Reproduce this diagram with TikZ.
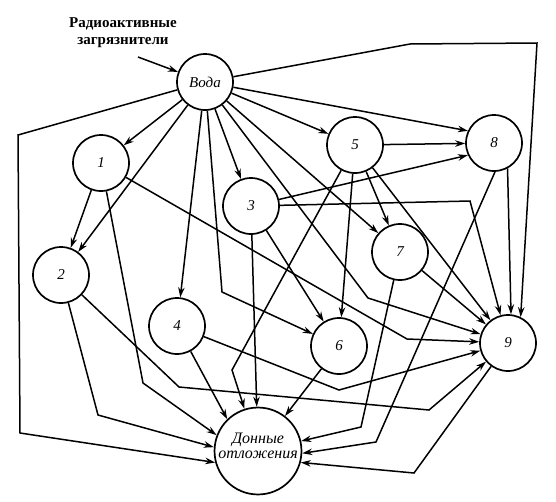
\documentclass[tikz,border=0pt]{standalone}
\usepackage{fontspec}
\setmainfont{Liberation Serif}
\usetikzlibrary{arrows.meta}

\begin{document}
\begin{tikzpicture}[x=1pt, y=-1pt, >={Stealth[length=10pt,width=6.5pt]},
	comp/.style={circle, draw, line width=1.7pt, minimum size=56pt, inner sep=0pt,
		font=\fontsize{15}{15}\selectfont\itshape},
	link/.style={->, line width=1.5pt}]
	\useasboundingbox (0,0) rectangle (556,501);
	
	% 标题与入口
	\node[font=\fontsize{15}{17}\selectfont\bfseries, align=center] (src) at (123,33) {Радиоактивные\\загрязнители};
	\coordinate (in) at (138,57);
	
	% 节点
	\node[comp] (v) at (205,82) {Вода};
	\node[comp] (n1) at (101,163) {1};
	\node[comp] (n2) at (61,275) {2};
	\node[comp] (n3) at (251,206) {3};
	\node[comp] (n4) at (177,326) {4};
	\node[comp] (n5) at (355,145) {5};
	\node[comp] (n6) at (339,346) {6};
	\node[comp] (n7) at (400,252) {7};
	\node[comp] (n8) at (494,143) {8};
	\node[comp] (n9) at (508,343) {9};
	\node[comp, minimum size=86pt, align=center, font=\fontsize{16}{15}\selectfont\itshape] (nd) at (258,451) {Донные\\отложения\\[-5pt]};
	
	% 从水出发
	\draw[link] (in) -- (v);
	\draw[link] (v) -- (n1);
	\draw[link] (v) -- (n2);
	\draw[link] (v) -- (18,135) -- (20,433) -- (nd.195);
	\draw[link] (v) -- (n4);
	\draw[link] (v) -- (222,292) -- (n6);
	\draw[link] (v) -- (n3);
	\draw[link] (v) -- (368,298) -- (n9);
	\draw[link] (v) -- (n7);
	\draw[link] (v) -- (n5);
	\draw[link] (v) -- (n8.155);
	\draw[link] (v) -- (410,44) -- (537,43) -- (n9.64);
	
	% 1 和 2
	\draw[link] (n1) -- (n2);
	\draw[link] (n1) -- (143,383) -- (nd.159);
	\draw[link] (n1) -- (407,339) -- (n9);
	\draw[link] (n2) -- (98,415) -- (nd.175);
	\draw[link] (n2) -- (179,387) -- (429,410) -- (n9);
	
	% 3 和 4
	\draw[link] (n3) -- (n8.205);
	\draw[link] (n3) -- (470,201) -- (n9);
	\draw[link] (n3) -- (n6);
	\draw[link] (n3) -- (nd);
	\draw[link] (n4) -- (nd.134);
	\draw[link] (n4) -- (339,390) -- (n9);
	
	% 5
	\draw[link] (n5) -- (n8);
	\draw[link] (n5) -- (n7);
	\draw[link] (n5) -- (n6);
	\draw[link] (n5) -- (n9);
	\draw[link] (n5) -- (232,370) -- (nd);
	
	% 6 到 9
	\draw[link] (n6) -- (nd);
	\draw[link] (n7) -- (n9);
	\draw[link] (n7) -- (361,427) -- (nd.13);
	\draw[link] (n8.-62) -- (n9.84);
	\draw[link] (n8.-88) -- (376,442) -- (nd.-3);
	\draw[link] (n9) -- (414,473) -- (nd.-15);
\end{tikzpicture}
\end{document}
